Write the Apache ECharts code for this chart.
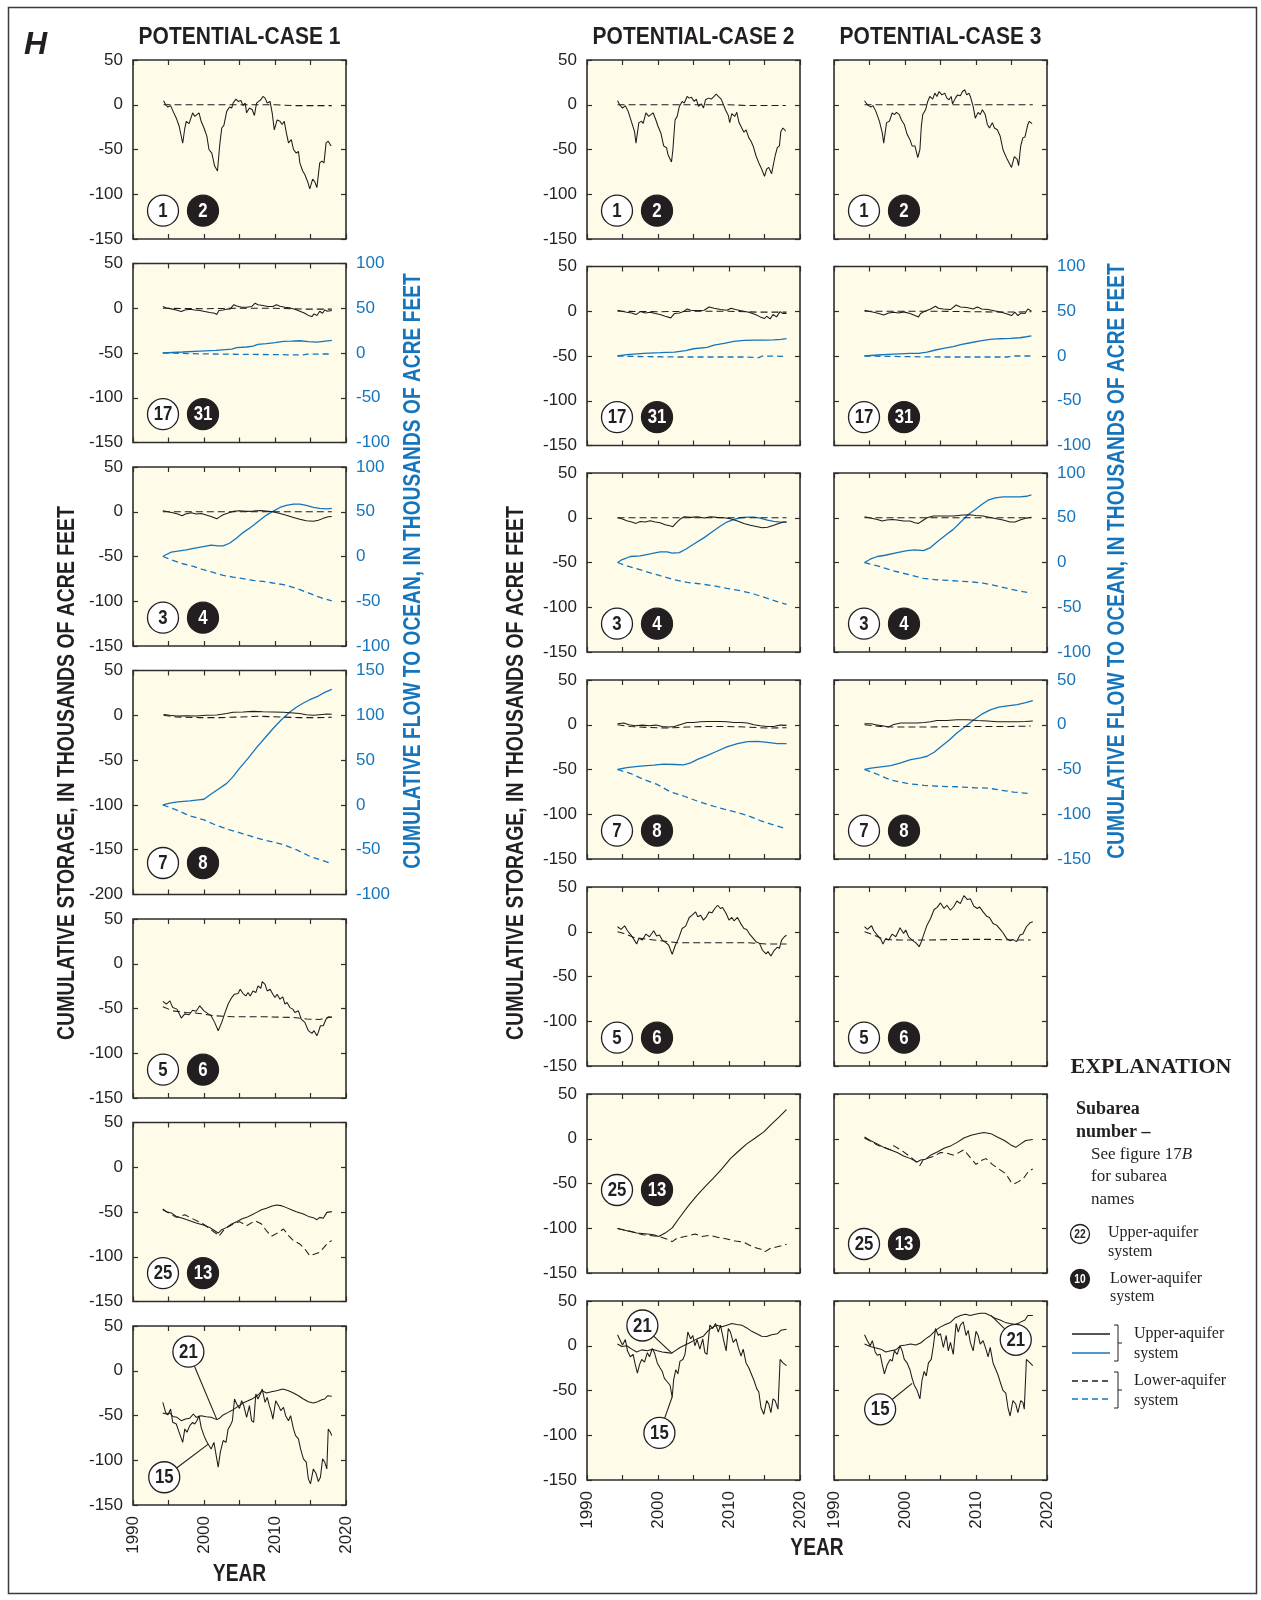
<!DOCTYPE html>
<html><head><meta charset="utf-8">
<script src="https://cdn.jsdelivr.net/npm/echarts@6/dist/echarts.min.js"></script>
<style>html,body{margin:0;padding:0;background:#fff}#c{width:1261px;height:1600px}</style>
</head><body><div id="c"></div>
<script>
// ---------------- DATA ----------------
const CASE_TITLES = ['POTENTIAL-CASE 1', 'POTENTIAL-CASE 2', 'POTENTIAL-CASE 3'];
const YEAR_TICK_LABELS = [1990, 2000, 2010, 2020];
const STORAGE_TITLE = 'CUMULATIVE STORAGE, IN THOUSANDS OF ACRE FEET';
const FLOW_TITLE = 'CUMULATIVE FLOW TO OCEAN, IN THOUSANDS OF ACRE FEET';

// Case 1
const c1_1 = [[1994.3,4.4],[1994.6,0],[1994.9,-2.6],[1995.3,-1],[1995.65,-7.4],[1996.1,-15],[1996.5,-24],[1997.0,-43],[1997.3,-26],[1997.5,-18.5],[1997.9,-21],[1998.4,-9],[1998.7,-13],[1999.0,-11],[1999.3,-9],[1999.6,-18.5],[2000.0,-26],[2000.4,-35],[2000.7,-50],[2001.1,-54],[2001.5,-68.5],[2001.9,-74],[2002.2,-46],[2002.5,-26],[2002.8,-23],[2003.2,-7.4],[2003.6,-2.6],[2003.9,-3.7],[2004.1,1.9],[2004.5,6.3],[2004.8,3.7],[2005.2,4.8],[2005.5,-1],[2005.8,1.9],[2006.0,-9],[2006.4,-3.7],[2006.8,-5.6],[2007.1,-12],[2007.4,1.9],[2007.7,3.7],[2008.0,5.6],[2008.3,9.3],[2008.6,7.4],[2008.9,1.9],[2009.3,3.7],[2009.6,-9],[2009.9,-28],[2010.3,-17],[2010.7,-18.5],[2011.0,-22],[2011.3,-18.5],[2011.6,-31.5],[2011.9,-42.6],[2012.3,-39],[2012.6,-50],[2013.0,-54],[2013.3,-52],[2013.5,-65],[2013.9,-74],[2014.2,-78],[2014.6,-86],[2014.9,-94],[2015.3,-83],[2015.6,-86],[2015.9,-92.6],[2016.3,-65],[2016.6,-63],[2016.9,-65],[2017.2,-42.6],[2017.5,-40.7],[2017.9,-46]];
const c1_2 = [[1994.3,0],[2000,0],[2005,0],[2010,0],[2012.5,-1],[2018,-1]];
const c1_17 = [[1994.2,1.9],[1994.7,0.4],[1995.4,-0.7],[1996.1,-1.9],[1996.8,-3.7],[1997.3,-1.9],[1998.0,-1],[1998.7,-1.9],[1999.4,-2.6],[2000.1,-3.7],[2000.8,-4.8],[2001.5,-5.6],[2001.8,-7],[2002.1,-2.6],[2002.7,-1.9],[2003.2,-1],[2003.7,-0.7],[2004.2,4],[2004.6,2.6],[2005.3,1.1],[2006.0,1.1],[2006.7,1.9],[2007.2,5.6],[2007.6,4],[2008.3,3],[2009.0,1.9],[2009.7,1.9],[2010.2,4],[2010.7,2.2],[2011.4,1.1],[2012.1,0.4],[2012.8,-1],[2013.5,-3.3],[2014.2,-5.6],[2014.8,-8.5],[2015.2,-9.3],[2015.5,-6.3],[2015.9,-8.1],[2016.3,-3.3],[2016.7,-5.6],[2017.0,-1.9],[2017.4,-3.3],[2018.0,-2.6]];
const c1_31 = [[1994.2,0],[2000,-0.5],[2005,0],[2010,0],[2014,-1],[2018,-1]];
const c1_17f = [[1994.2,0],[1997.0,1.1],[1999.4,2.2],[2001.7,3],[2003.9,4.4],[2004.6,5.9],[2006.0,6.7],[2006.9,7.8],[2007.6,9.6],[2008.8,10.4],[2010.0,11.5],[2011.2,13],[2012.3,13.3],[2013.5,13.7],[2014.7,12.6],[2015.9,12.2],[2016.8,13],[2018.0,14]];
const c1_31f = [[1994.2,0],[2000,-1],[2005,-1.5],[2010,-1.8],[2014,-2.2],[2014.5,-1.2],[2018,-1.1]];
const c1_3 = [[1994.2,1],[1994.9,0],[1995.6,-1],[1996.3,-2.6],[1996.9,-4.4],[1997.4,-2.6],[1998.2,-1],[1998.9,-2.6],[1999.6,-1.9],[2000.3,-3.7],[2001.0,-5.2],[2001.8,-7.8],[2002.1,-6.3],[2002.7,-3.3],[2003.4,-1.5],[2004.1,0.4],[2005.0,1.1],[2006.0,0.4],[2006.9,0.7],[2007.9,1.5],[2008.8,0.7],[2009.7,0],[2010.7,-1.9],[2011.6,-4],[2012.6,-6.3],[2013.5,-8.5],[2014.4,-10],[2015.4,-10.7],[2016.1,-9.6],[2016.8,-7.4],[2017.5,-5.6],[2018.0,-5.2]];
const c1_4 = [[1994.2,0],[2005,0],[2018,0]];
const c1_3f = [[1994.2,0],[1994.7,2.2],[1995.4,4.8],[1996.3,5.9],[1997.5,7.4],[1998.7,9.3],[1999.9,11],[2001.0,12.6],[2002.0,11.9],[2002.7,11.9],[2003.6,14.8],[2004.6,20.7],[2005.5,26.7],[2006.7,33.3],[2007.9,40.7],[2008.8,46.3],[2009.7,50.4],[2010.7,54.8],[2011.6,57],[2012.6,58.5],[2013.5,58.5],[2014.4,57],[2015.4,54.8],[2016.3,53.7],[2017.3,53.3],[2018.0,53.7]];
const c1_4f = [[1994.2,0],[1995.4,-3.7],[1997.0,-8.1],[1998.5,-11],[1999.9,-14.8],[2001.3,-17.8],[2002.7,-21],[2004.1,-23],[2005.5,-24.8],[2006.9,-26.7],[2008.3,-27.8],[2009.7,-29.6],[2011.2,-31.5],[2012.3,-34],[2013.5,-37],[2014.7,-40.7],[2015.9,-44.4],[2017.0,-47.4],[2018.0,-49.6]];
const c1_7 = [[1994.3,1],[1995.2,0],[1996.1,-0.7],[1997.5,-0.4],[1998.9,-0.7],[2000.3,0],[2001.8,0.4],[2003.2,1.9],[2004.1,3.3],[2005.5,3.7],[2006.9,4.4],[2008.3,4],[2009.7,3.7],[2011.2,3.3],[2012.6,2.6],[2013.5,1.9],[2014.4,0.7],[2015.4,0],[2016.3,0.7],[2017.3,1.5],[2018.0,1.1]];
const c1_8 = [[1994.3,0],[1996.1,-1.9],[1999.4,-2.6],[2002.2,-2.6],[2005.1,-1.9],[2007.9,-1.1],[2010.7,-1.9],[2013.5,-2.6],[2015.9,-2.6],[2018.0,-2.2]];
const c1_7f = [[1994.2,0],[1995.2,1.9],[1996.3,3.3],[1998.0,4.4],[1999.2,5.6],[2000.0,6.3],[2000.8,11],[2002.0,17.4],[2003.2,24],[2004.1,31.5],[2005.0,40.7],[2006.2,51.9],[2007.4,64],[2008.6,75],[2009.7,85],[2010.9,95],[2012.1,103.7],[2013.0,109],[2014.0,113.7],[2014.9,117.4],[2016.1,121.5],[2017.0,125.6],[2018.0,129]];
const c1_8f = [[1994.2,0],[1996.1,-5.6],[1998.0,-12.2],[2000.0,-16.7],[2001.8,-23],[2003.6,-27.8],[2005.5,-32.2],[2007.4,-37],[2009.3,-40.7],[2011.2,-44.4],[2013.0,-50],[2014.9,-57.4],[2016.3,-61],[2018.0,-65.6]];
const c1_5 = [[1994.2,-42],[1994.7,-45],[1995.2,-41.5],[1995.6,-49],[1996.2,-50.7],[1996.8,-60.7],[1997.3,-56],[1997.9,-57],[1998.4,-52],[1998.9,-53],[1999.4,-47],[2000.0,-52.6],[2000.2,-50.7],[2000.6,-56],[2001.0,-58],[2001.5,-65.5],[2002.0,-74.8],[2002.5,-65.5],[2002.9,-56],[2003.4,-45],[2003.9,-37.8],[2004.3,-34],[2004.8,-33.3],[2005.1,-28.5],[2005.5,-33.3],[2005.9,-36],[2006.2,-32.2],[2006.5,-36],[2006.9,-30.4],[2007.3,-32.2],[2007.6,-24.8],[2008.0,-27.4],[2008.2,-20],[2008.6,-23],[2008.9,-30.4],[2009.3,-28.5],[2009.7,-34],[2010.0,-37.8],[2010.3,-34],[2010.7,-39.6],[2011.1,-37],[2011.4,-45],[2011.7,-43.3],[2012.1,-49],[2012.5,-50.7],[2012.8,-54.4],[2013.3,-52.6],[2013.7,-61.8],[2014.2,-65.5],[2014.7,-74.8],[2015.2,-77.8],[2015.5,-74.8],[2015.9,-80.4],[2016.1,-76.7],[2016.4,-69.3],[2016.8,-69.3],[2017.2,-61.8],[2017.5,-59.3],[2018.0,-60]];
const c1_6 = [[1994.2,-48],[1995.6,-52.6],[1997.5,-54.4],[1999.4,-55.5],[2001.3,-58],[2004.1,-59.3],[2008.8,-59.3],[2012.6,-60],[2014.5,-61.8],[2016.3,-62.2],[2018.0,-59.3]];
const c1_25 = [[1994.2,-46.6],[1994.7,-49.6],[1995.4,-51],[1996.1,-55],[1997.0,-57],[1998.0,-59.7],[1998.9,-62.3],[1999.9,-64.6],[2000.8,-67.2],[2001.5,-70.9],[2002.0,-73.5],[2002.5,-69.8],[2003.2,-67.2],[2003.9,-63.4],[2004.6,-60.8],[2005.3,-57.8],[2006.0,-56],[2006.7,-53.4],[2007.4,-50.4],[2008.1,-47.4],[2008.8,-45.9],[2009.5,-43.7],[2010.2,-42.2],[2010.9,-42.9],[2011.6,-45.1],[2012.3,-47.4],[2013.0,-49.6],[2014.0,-52.2],[2014.7,-54.9],[2015.4,-56.3],[2015.9,-58.6],[2016.3,-56],[2016.8,-57],[2017.3,-50.4],[2018.0,-49.6]];
const c1_13 = [[1994.2,-47.4],[1996.1,-56],[1997.3,-53],[1998.0,-56],[1999.9,-63.4],[2001.8,-74.6],[2002.1,-77],[2002.9,-69],[2004.1,-63.4],[2005.0,-60.8],[2006.0,-65.3],[2007.2,-59.7],[2008.1,-63.4],[2008.8,-71],[2009.5,-77.2],[2010.5,-72.8],[2011.2,-69],[2011.9,-76.5],[2012.6,-82],[2013.5,-85.8],[2014.2,-91.4],[2014.9,-98.9],[2015.6,-97],[2016.3,-95],[2016.9,-89.6],[2017.5,-84],[2018.0,-82]];
const c1_21 = [[1994.2,-47.2],[1994.7,-48.3],[1995.2,-47.2],[1995.6,-51],[1996.2,-52],[1996.8,-55.8],[1997.4,-54],[1998.0,-53],[1998.5,-48.3],[1998.9,-52],[1999.6,-50.2],[2000.3,-51.3],[2001.0,-52],[2001.8,-54.6],[2002.2,-53],[2002.7,-49.4],[2003.4,-46.5],[2004.1,-43.5],[2004.8,-39.8],[2005.5,-36],[2006.2,-33.5],[2006.9,-30.9],[2007.6,-27.1],[2008.2,-22.3],[2008.8,-24.9],[2009.5,-23.4],[2010.2,-22.3],[2011.1,-20.4],[2011.9,-22.3],[2012.6,-24.9],[2013.3,-27.9],[2014.0,-31.6],[2014.7,-34.6],[2015.4,-36],[2016.0,-34.6],[2016.6,-32.3],[2017.0,-31.6],[2017.4,-27.9],[2018.0,-28.6]];
const c1_15 = [[1994.2,-35.3],[1994.6,-46.5],[1994.9,-49.4],[1995.3,-42.8],[1995.6,-57.6],[1996.1,-59.5],[1996.5,-68.8],[1997.0,-80],[1997.3,-65],[1997.6,-68.8],[1998.0,-61.3],[1998.4,-57.6],[1998.7,-59.5],[1999.0,-55.8],[1999.3,-50.2],[1999.6,-63.2],[2000.0,-72.5],[2000.3,-78],[2000.7,-83.6],[2001.0,-87.4],[2001.4,-80],[2001.8,-98.5],[2002.0,-107.8],[2002.3,-91],[2002.7,-78],[2003.1,-80],[2003.4,-65],[2003.7,-61.3],[2004.0,-55.8],[2004.3,-31.6],[2004.6,-37.2],[2005.0,-42],[2005.3,-33.5],[2005.6,-39],[2006.0,-52],[2006.4,-39],[2006.7,-55.8],[2007.0,-57.6],[2007.3,-26],[2007.6,-31.6],[2008.0,-24.9],[2008.2,-20.4],[2008.6,-35.3],[2008.9,-29.7],[2009.2,-39],[2009.5,-46.5],[2009.7,-54],[2010.1,-33.5],[2010.5,-39],[2010.8,-44.6],[2011.2,-40.9],[2011.5,-50.2],[2011.9,-55.8],[2012.2,-50.2],[2012.6,-65],[2012.9,-72.5],[2013.3,-76.2],[2013.6,-87.4],[2014.0,-98.5],[2014.4,-102],[2014.7,-120.8],[2015.0,-126.4],[2015.4,-109.7],[2015.8,-115.2],[2016.1,-123.8],[2016.4,-119],[2016.7,-98.5],[2017.0,-102],[2017.3,-109.7],[2017.5,-65],[2017.8,-68.8],[2018.0,-72.5]];

// Case 2
const c2_1 = [[1994.3,4.4],[1994.6,0],[1995.0,-3.7],[1995.4,-1],[1995.8,-7.4],[1996.3,-20],[1996.7,-30],[1996.9,-43],[1997.3,-20],[1997.7,-18.5],[1997.9,-21],[1998.3,-9],[1998.7,-13],[1999.0,-11],[1999.3,-9],[1999.7,-17],[2000.0,-24],[2000.4,-31.5],[2000.8,-46],[2001.2,-48],[2001.4,-55.5],[2001.9,-64],[2002.1,-50],[2002.4,-17],[2002.7,-13],[2003.0,-2],[2003.4,3.7],[2003.7,1.9],[2004.1,9.3],[2004.4,7.4],[2004.7,8.5],[2005.1,3.7],[2005.4,6.3],[2005.7,-1.9],[2006.1,1],[2006.4,-3.7],[2006.7,5.6],[2007.1,7.4],[2007.5,6.3],[2007.9,9.3],[2008.2,12],[2008.5,9.3],[2008.9,6.3],[2009.1,4.8],[2009.5,-5.6],[2009.9,-12],[2010.1,-20],[2010.4,-10],[2010.8,-13],[2011.1,-8.5],[2011.4,-19.6],[2011.8,-26],[2012.1,-30.7],[2012.4,-28],[2012.8,-37],[2013.1,-40.7],[2013.4,-46],[2013.8,-57],[2014.2,-65],[2014.5,-70],[2014.8,-76],[2015.0,-80],[2015.3,-72],[2015.6,-70],[2016.0,-77],[2016.2,-76],[2016.5,-57],[2016.8,-48],[2017.1,-46],[2017.3,-30],[2017.6,-26],[2018.0,-29.6]];
const c2_2 = [[1994.3,0],[2000,0],[2005,0],[2010,0],[2012.5,-0.8],[2018,-0.8]];
const c2_17 = [[1994.3,1.1],[1994.9,0],[1995.6,-1.1],[1996.3,-1.9],[1996.9,-3.7],[1997.5,-0.4],[1998.2,-1.9],[1998.9,-1.1],[1999.6,-2.6],[2000.3,-3.7],[2001.0,-5.6],[2001.8,-7.4],[2002.0,-8.5],[2002.3,-2.6],[2003.0,-1.9],[2003.6,-0.4],[2004.1,2.6],[2004.6,1.1],[2005.5,0.7],[2006.5,1.1],[2007.2,4.8],[2007.9,3.3],[2008.8,1.9],[2009.7,1.1],[2010.3,3.3],[2010.9,1.9],[2011.9,0.4],[2012.8,-1.1],[2013.7,-3.7],[2014.4,-6.3],[2015.0,-8.1],[2015.3,-5.6],[2015.8,-8.5],[2016.2,-3.7],[2016.7,-6.3],[2017.2,-0.4],[2017.6,-2.6],[2018.1,-2.6]];
const c2_31 = [[1994.3,0],[2000,-0.5],[2005,0],[2010,0],[2014,-1],[2018.1,-1]];
const c2_17f = [[1994.3,0],[1995.6,1.5],[1998.0,3],[2000.3,3.7],[2002.3,4.4],[2003.9,5.9],[2005.0,8.1],[2006.9,9.6],[2007.9,12.2],[2009.3,14],[2010.7,16.3],[2012.1,17.4],[2013.5,17.8],[2014.9,17.8],[2016.3,18.1],[2017.3,18.5],[2018.1,19.3]];
const c2_31f = [[1994.3,0],[1998.0,-0.7],[2002.7,-1.1],[2007.4,-1.1],[2012.1,-1.1],[2014.2,-1.9],[2014.7,0],[2018.1,-0.4]];
const c2_3 = [[1994.3,0],[1994.9,-1.1],[1995.6,-3.3],[1996.3,-4.8],[1996.9,-6.3],[1997.5,-4.1],[1998.2,-4.8],[1998.9,-3.3],[1999.6,-4.8],[2000.3,-5.6],[2001.0,-7.8],[2001.8,-9.3],[2002.1,-10],[2002.5,-6.3],[2003.2,-1.1],[2003.7,1.1],[2004.6,0.4],[2005.6,1.1],[2006.5,-0.4],[2007.4,1.1],[2008.3,0.4],[2009.3,0],[2010.2,-1.1],[2011.2,-3.7],[2012.1,-6.3],[2013.0,-8.5],[2014.0,-10],[2014.7,-11.1],[2015.4,-10.7],[2016.3,-8.5],[2017.0,-6.3],[2017.7,-4.8],[2018.1,-4.8]];
const c2_4 = [[1994.3,0],[2005,0],[2018.1,0]];
const c2_3f = [[1994.3,0],[1994.9,3],[1996.1,6.7],[1997.5,7.4],[1998.9,9.6],[2000.3,11.9],[2001.3,11.9],[2002.0,10.4],[2003.0,11.1],[2003.9,14.8],[2005.0,20.4],[2006.5,27.8],[2007.6,34],[2008.8,40.7],[2009.7,45.2],[2010.7,48.1],[2011.6,50],[2012.6,50.7],[2013.5,50.7],[2014.4,49.6],[2015.4,47.4],[2016.3,45.9],[2017.3,45.2],[2018.1,45.2]];
const c2_4f = [[1994.3,0],[1995.6,-3.7],[1998.0,-9.3],[2000.3,-14.8],[2002.3,-19.3],[2004.1,-22.2],[2006.0,-24],[2007.9,-26],[2009.7,-28.9],[2011.6,-31.5],[2013.5,-35.2],[2015.4,-40],[2016.8,-43.7],[2018.1,-46.7]];
const c2_7 = [[1994.3,1.1],[1995.2,1.9],[1995.9,0],[1996.8,-1.1],[1997.8,-0.4],[1998.8,-1.1],[1999.7,-0.4],[2000.6,-1.9],[2001.5,-2.6],[2002.3,-1.9],[2003.2,0.4],[2004.1,2.6],[2005.0,2.6],[2006.0,3.3],[2006.9,3.7],[2007.9,3.7],[2008.8,3.7],[2009.7,3.3],[2010.7,2.6],[2011.6,2.6],[2012.6,1.9],[2013.5,0],[2014.4,-1.1],[2015.4,-1.9],[2016.3,-1.9],[2017.2,-0.4],[2018.1,-0.7]];
const c2_8 = [[1994.3,0],[1996.1,-1.9],[1998.5,-3],[2001.3,-3.7],[2004.1,-2.6],[2006.9,-1.9],[2009.7,-1.9],[2012.6,-2.6],[2015.4,-3.7],[2018.1,-3.3]];
const c2_7f = [[1994.3,-50],[1995.6,-47.8],[1997.5,-46.3],[1999.4,-45.2],[2000.8,-44],[2002.3,-44.4],[2003.6,-44.8],[2004.6,-42.6],[2005.5,-38.9],[2006.9,-34.4],[2008.3,-29.6],[2009.7,-24.8],[2011.2,-21.1],[2012.6,-18.9],[2014.0,-18.5],[2015.4,-19.6],[2016.8,-21.1],[2018.1,-21.1]];
const c2_8f = [[1994.3,-50],[1996.1,-54.4],[1998.0,-61.1],[1999.9,-66.7],[2001.8,-75.2],[2003.6,-79.6],[2005.5,-85.2],[2007.4,-90],[2009.3,-94.4],[2011.2,-98.1],[2013.0,-102.6],[2014.4,-107],[2015.9,-111.1],[2017.2,-114],[2018.1,-116.7]];
const c2_5 = [[1994.3,5.6],[1994.8,2.6],[1995.3,6.7],[1995.7,1.1],[1996.2,-3.7],[1996.6,-8.5],[1997.0,-13.7],[1997.3,-7.4],[1997.8,-9.3],[1998.3,-2.6],[1998.8,-5.6],[1999.4,1.1],[1999.8,-4.8],[2000.2,-3.7],[2000.6,-9.3],[2001.1,-12.2],[2001.5,-14.8],[2002.0,-25.2],[2002.4,-15.9],[2002.9,-7.4],[2003.4,3.7],[2003.9,6.3],[2004.4,15.9],[2004.8,18.5],[2005.3,22.2],[2005.6,16.7],[2006.0,18.5],[2006.4,13],[2006.8,16.7],[2007.2,22.2],[2007.6,21.1],[2008.0,26],[2008.4,29.6],[2008.8,26],[2009.1,27],[2009.6,20.4],[2010.0,13],[2010.4,16],[2010.7,12.2],[2011.2,16],[2011.7,8.5],[2012.1,3.7],[2012.5,2.6],[2012.9,-2.6],[2013.3,-6.3],[2013.8,-11.1],[2014.3,-13],[2014.7,-20.4],[2015.2,-24.8],[2015.5,-22.2],[2015.9,-27],[2016.4,-20.4],[2016.8,-17.4],[2017.1,-18.5],[2017.4,-9.3],[2017.8,-5.6],[2018.1,-3.7]];
const c2_6 = [[1994.3,0],[1995.2,-1.9],[1996.6,-6.3],[1998.5,-8.5],[2000.4,-10],[2002.8,-12.2],[2005.1,-12.2],[2009.8,-12.2],[2012.6,-12.2],[2015.4,-13.7],[2018.1,-13.7]];
const c2_25 = [[1994.3,-100.4],[1995.6,-102.7],[1997.0,-105.4],[1998.5,-106.5],[1999.4,-107.3],[2000.1,-109.2],[2001.0,-105.4],[2002.0,-99.6],[2003.1,-87.4],[2004.3,-74.7],[2005.5,-63.2],[2006.7,-52.9],[2007.8,-44.1],[2009.0,-33.7],[2010.2,-22.2],[2011.4,-13.4],[2012.5,-5.7],[2013.7,0.8],[2014.9,7.7],[2016.1,17.2],[2017.0,23.8],[2018.1,32.6]];
const c2_13 = [[1994.3,-100.4],[1996.1,-103.4],[1997.9,-107.3],[2000.1,-109.2],[2001.2,-111.9],[2002.0,-115],[2002.7,-111.1],[2003.8,-109.2],[2005.2,-106.5],[2006.2,-109.2],[2007.3,-108],[2008.5,-110.3],[2009.7,-111.9],[2010.9,-114.2],[2012.1,-115.7],[2013.3,-120.7],[2014.5,-123.4],[2015.0,-126.4],[2015.8,-122.6],[2016.8,-120.7],[2018.1,-118]];
const c2_21 = [[1994.3,1.9],[1994.9,-0.8],[1995.6,0],[1996.3,-3.8],[1997.0,-6.9],[1997.7,-4.6],[1998.5,-5.7],[1999.2,-3.8],[1999.9,-5.7],[2000.6,-6.9],[2001.3,-7.7],[2001.9,-8.4],[2002.4,-5.7],[2003.1,-1.9],[2003.8,0.8],[2004.4,3.1],[2005.0,5.7],[2005.7,8.4],[2006.4,10.7],[2007.1,17.2],[2007.8,21.1],[2008.3,23],[2009.0,21.1],[2009.7,23],[2010.4,24.9],[2011.1,23.8],[2011.8,23],[2012.5,19.9],[2013.2,16.1],[2013.9,13.4],[2014.6,10.7],[2015.3,10.3],[2016.0,12.3],[2016.8,13.4],[2017.3,17.2],[2018.1,18.4]];
const c2_15 = [[1994.3,12.3],[1994.7,5.7],[1995.0,0.8],[1995.4,6.9],[1995.7,-5.7],[1996.1,-12.3],[1996.5,-9.6],[1996.8,-21.1],[1997.1,-30.7],[1997.4,-21.1],[1997.7,-15.3],[1998.1,-18.4],[1998.5,-7.7],[1998.8,-12.3],[1999.2,-3.1],[1999.5,-7.7],[1999.9,-19.2],[2000.3,-24.9],[2000.6,-28.7],[2000.9,-36.4],[2001.3,-40.2],[2001.7,-44.1],[2002.0,-57.5],[2002.2,-38.3],[2002.5,-26.8],[2002.8,-31.4],[2003.1,-17.2],[2003.5,-15.3],[2003.8,-9.6],[2004.2,15.3],[2004.6,7.7],[2004.9,11.5],[2005.2,0],[2005.5,6.9],[2005.9,-3.8],[2006.3,7.7],[2006.6,-7.7],[2006.9,-9.6],[2007.3,23],[2007.7,19.2],[2008.1,24.9],[2008.5,15.3],[2008.8,23],[2009.2,7.7],[2009.6,-5.7],[2009.9,19.2],[2010.2,15.3],[2010.6,3.8],[2011.0,7.7],[2011.3,-1.9],[2011.7,-11.5],[2012.0,-3.8],[2012.4,-19.2],[2012.8,-24.9],[2013.1,-30.7],[2013.5,-38.3],[2013.9,-47.9],[2014.2,-51.7],[2014.5,-69],[2014.9,-76.6],[2015.3,-61.3],[2015.6,-65.1],[2015.9,-74.7],[2016.2,-59.4],[2016.5,-61.3],[2016.9,-70.9],[2017.2,-15.3],[2017.6,-19.2],[2018.1,-22.2]];

// Case 3
const c3_1 = [[1994.3,4.4],[1994.7,0],[1995.2,-2.6],[1995.5,-1],[1995.9,-7.4],[1996.4,-18.5],[1996.8,-31.5],[1997.0,-43],[1997.4,-20],[1997.8,-18.5],[1998.2,-9],[1998.5,-11],[1998.8,-8.5],[1999.2,-11],[1999.5,-17],[1999.9,-22],[2000.3,-33],[2000.7,-39],[2001.0,-46],[2001.4,-46],[2001.8,-59],[2002.1,-50],[2002.3,-24],[2002.5,-11],[2002.9,-5.6],[2003.2,3.7],[2003.5,9.3],[2003.9,6.3],[2004.2,13],[2004.5,9.3],[2004.8,14.8],[2005.2,11],[2005.6,13],[2005.9,7.4],[2006.2,5.6],[2006.5,9.3],[2006.7,1],[2007.1,7.4],[2007.4,11],[2007.8,10],[2008.1,14.8],[2008.4,16.7],[2008.7,11],[2009.0,13],[2009.2,9.3],[2009.6,-1.9],[2009.9,-15],[2010.3,-8.5],[2010.6,-11],[2010.9,-5.6],[2011.3,-11],[2011.6,-22],[2011.9,-26],[2012.3,-20],[2012.6,-26],[2013.0,-28],[2013.4,-35],[2013.8,-50],[2014.0,-54],[2014.4,-61],[2014.8,-67],[2015.0,-70],[2015.4,-58],[2015.8,-61],[2016.0,-68],[2016.3,-46],[2016.6,-37],[2016.9,-36],[2017.3,-22],[2017.5,-18.5],[2017.9,-21]];
const c3_2 = [[1994.3,0],[2000,0],[2005,0],[2010,0],[2018,0]];
const c3_17 = [[1994.3,1.1],[1994.9,0],[1995.6,-1.1],[1996.3,-2.6],[1997.0,-4.1],[1997.7,-1.9],[1998.4,-1.1],[1999.1,-1.9],[1999.8,-0.7],[2000.7,-2.6],[2001.4,-4.8],[2001.9,-6.3],[2002.2,-2.6],[2002.9,0.4],[2003.6,2.6],[2004.3,5.6],[2004.7,3.3],[2005.4,2.6],[2006.4,1.9],[2007.2,7],[2007.8,4.8],[2008.7,4.1],[2009.6,2.6],[2010.2,4.8],[2010.8,2.6],[2011.7,1.9],[2012.7,0.4],[2013.6,-1.1],[2014.5,-3.3],[2015.0,-4.8],[2015.5,-1.1],[2015.9,-4.8],[2016.4,-1.9],[2016.9,-2.6],[2017.3,2.6],[2017.8,0]];
const c3_31 = [[1994.3,0],[2005,0],[2014,-1],[2017.8,-0.5]];
const c3_17f = [[1994.3,0],[1996.1,1.1],[1998.4,2.2],[2000.7,3],[2001.9,3],[2003.1,4.4],[2004.3,6.7],[2005.4,8.5],[2006.8,10.4],[2008.0,13],[2009.2,14.8],[2010.6,17],[2012.0,18.5],[2013.4,19.3],[2014.8,19.6],[2016.2,20.4],[2017.1,21.5],[2017.8,22.6]];
const c3_31f = [[1994.3,0],[2000,-0.7],[2005,-1.1],[2010,-1.1],[2014.5,-1.1],[2015,0],[2017.8,0]];
const c3_3 = [[1994.3,1.1],[1995.1,-0.4],[1996.1,-1.9],[1996.8,-3.7],[1997.4,-2.6],[1998.2,-1.9],[1998.9,-2.6],[1999.8,-3.7],[2000.7,-3.7],[2001.4,-5.6],[2001.9,-6.3],[2002.4,-3.7],[2003.1,0],[2004.0,1.9],[2005.4,1.9],[2006.8,1.9],[2008.2,3],[2009.1,3.3],[2010.0,2.6],[2011.0,1.9],[2012.0,0.4],[2012.9,-1.1],[2013.8,-2.6],[2014.8,-4.8],[2015.5,-4.8],[2016.2,-2.6],[2017.1,-0.4],[2017.8,0.4]];
const c3_4 = [[1994.3,0],[2005,0],[2017.8,0]];
const c3_3f = [[1994.3,0],[1995.1,3.7],[1996.1,6.7],[1997.2,8.1],[1998.9,11.1],[2000.3,13.3],[2001.4,14.1],[2002.6,13.3],[2003.6,16.7],[2004.5,23],[2005.7,30.4],[2006.8,37],[2008.0,46.3],[2008.9,53.7],[2009.9,59.3],[2010.8,64.8],[2011.7,69.6],[2012.7,72.2],[2013.8,73.3],[2015.2,73.3],[2016.2,73.3],[2017.1,74],[2017.8,75.6]];
const c3_4f = [[1994.3,0],[1996.1,-3.7],[1998.4,-9.3],[2000.7,-14],[2002.6,-17.8],[2004.5,-19.3],[2006.8,-20.4],[2009.1,-21.5],[2011.0,-23],[2012.9,-26],[2014.8,-29.6],[2016.6,-32.6],[2017.8,-34]];
const c3_7 = [[1994.3,1.1],[1995.2,1.1],[1995.9,0],[1996.8,-1.1],[1997.7,-2.6],[1998.4,0.4],[1999.4,1.9],[2000.5,1.9],[2001.7,1.9],[2002.7,2.6],[2003.6,3.3],[2004.5,4.8],[2005.9,4.8],[2007.3,5.6],[2008.8,5.6],[2010.2,4.8],[2011.6,4.1],[2013.0,3.3],[2014.4,3.3],[2015.8,3.3],[2017.0,3.7],[2018.0,4.1]];
const c3_8 = [[1994.3,0],[1996.6,-1.9],[1998.4,-2.6],[2003.1,-2.6],[2007.8,-1.9],[2012.5,-1.9],[2014.8,-1.9],[2017.7,-1.5]];
const c3_7f = [[1994.3,-50],[1995.2,-48.5],[1996.6,-47],[1998.0,-45.6],[1999.4,-42.6],[2000.8,-38.9],[2002.2,-37],[2003.1,-35.2],[2004.1,-30.7],[2005.0,-24.8],[2006.2,-17.4],[2007.3,-9.3],[2008.5,-1.9],[2009.7,5.6],[2010.9,12.2],[2012.0,16.7],[2013.2,19.6],[2014.4,21.1],[2015.8,22.6],[2017.0,24.8],[2018.0,27]];
const c3_8f = [[1994.3,-50],[1995.6,-53.7],[1998.0,-61.8],[2000.3,-65.6],[2002.7,-67.8],[2005.0,-68.9],[2007.3,-69.3],[2009.7,-70.4],[2011.6,-70.7],[2013.4,-73],[2015.3,-75.2],[2017.7,-77]];
const c3_5 = [[1994.3,5.6],[1994.7,2.6],[1995.3,6.7],[1995.6,1.1],[1996.1,-3.7],[1996.6,-8.5],[1996.9,-13.7],[1997.3,-7.4],[1997.7,-9.3],[1998.2,-2.6],[1998.7,-5.6],[1999.3,4.4],[1999.8,-1.9],[2000.1,1.9],[2000.5,-5.6],[2001.0,-9.3],[2001.5,-12.2],[2002.0,-16.7],[2002.3,-11.1],[2002.7,-1.9],[2003.1,7.4],[2003.6,14.8],[2004.1,24.8],[2004.5,27],[2005.0,32.2],[2005.5,26],[2005.9,29.6],[2006.4,24],[2006.9,28.5],[2007.3,34.4],[2007.8,31.5],[2008.3,40.4],[2008.8,36],[2009.2,37],[2009.7,28.5],[2010.2,26],[2010.5,27.8],[2011.0,22.2],[2011.5,17.4],[2011.9,15.9],[2012.4,9.3],[2012.9,7.4],[2013.3,3.7],[2013.8,-1.1],[2014.3,-7.4],[2014.8,-10],[2015.2,-8.5],[2015.7,-11.1],[2016.2,-3.7],[2016.6,-2.6],[2017.1,5.6],[2017.6,10],[2018.0,11.1]];
const c3_6 = [[1994.3,0],[1995.6,-3.7],[1997.0,-8.5],[1999.4,-9.3],[2003.1,-9.3],[2007.8,-8.5],[2012.5,-8.5],[2015.3,-9.3],[2017.7,-9.3]];
const c3_25 = [[1994.3,1.9],[1995.1,-1.9],[1996.1,-5.7],[1997.0,-9.6],[1997.9,-12.3],[1998.9,-15.3],[1999.8,-19.2],[2000.8,-22.2],[2001.7,-26],[2002.2,-23.8],[2002.9,-23],[2003.6,-18.4],[2004.6,-14.6],[2005.5,-10.7],[2006.5,-7.7],[2007.4,-3.8],[2008.3,0.8],[2009.3,3.8],[2010.2,5.7],[2011.1,6.9],[2012.1,5.7],[2013.0,1.9],[2014.0,-1.9],[2014.9,-6.9],[2015.6,-9.6],[2016.3,-5.7],[2017.0,-1.9],[2018.0,-0.8]];
const c3_13 = [[1994.3,0.8],[1996.1,-6.9],[1997.9,-12.3],[1998.4,-7.7],[1999.8,-14.6],[2001.2,-23],[2002.1,-29.9],[2002.6,-23],[2004.0,-19.9],[2005.0,-15.3],[2005.9,-16.1],[2006.9,-18.4],[2008.3,-12.3],[2009.0,-19.2],[2010.0,-28.7],[2010.9,-23.8],[2011.4,-22.2],[2012.3,-28.7],[2013.2,-33.7],[2014.2,-39.1],[2014.9,-47.9],[2015.3,-50.6],[2016.0,-47.9],[2016.7,-44.1],[2017.4,-36.4],[2018.0,-33.7]];
const c3_21 = [[1994.3,1.9],[1995.1,-0.8],[1995.8,-2.3],[1996.6,-3.8],[1997.3,-6.9],[1998.0,-5.7],[1998.7,-4.6],[1999.4,0],[2000.1,0.8],[2000.8,1.9],[2001.5,0.8],[2002.2,3.1],[2002.9,7.7],[2003.6,11.5],[2004.3,17.2],[2005.0,21.1],[2005.7,23.8],[2006.4,26.1],[2007.1,31.4],[2007.8,33.7],[2008.5,35.2],[2009.2,33.7],[2009.9,35.2],[2010.6,36.4],[2011.3,36.4],[2012.0,33.7],[2012.7,30.7],[2013.4,28.7],[2014.1,26.1],[2014.8,24.9],[2015.5,23.8],[2016.2,26.1],[2016.9,28.7],[2017.3,33.7],[2018.0,33.7]];
const c3_15 = [[1994.3,12.3],[1994.7,5.7],[1995.1,0],[1995.4,5.7],[1995.8,-6.9],[1996.1,-10.7],[1996.5,-9.6],[1996.8,-21.1],[1997.1,-31.4],[1997.5,-21.1],[1997.9,-15.3],[1998.2,-17.2],[1998.5,-5.7],[1998.9,-9.6],[1999.3,0],[1999.6,-5.7],[1999.9,-15.3],[2000.3,-19.2],[2000.7,-26.8],[2001.0,-36.4],[2001.3,-44.1],[2001.7,-49.8],[2002.1,-59.4],[2002.4,-38.3],[2002.7,-28.7],[2003.0,-33.7],[2003.3,-19.2],[2003.7,-15.3],[2004.0,0],[2004.3,19.2],[2004.7,11.5],[2005.0,13.4],[2005.4,-1.9],[2005.8,11.5],[2006.1,-5.7],[2006.4,3.8],[2006.8,-9.6],[2007.2,24.9],[2007.5,15.3],[2007.8,23],[2008.2,26.8],[2008.6,11.5],[2008.9,17.2],[2009.2,3.8],[2009.6,-5.7],[2010.0,16.1],[2010.3,11.5],[2010.6,1.9],[2011.0,5.7],[2011.4,-3.8],[2011.7,-12.3],[2012.0,-1.9],[2012.4,-19.2],[2012.8,-26.8],[2013.1,-32.6],[2013.4,-40.2],[2013.8,-49.8],[2014.2,-52.9],[2014.5,-69],[2014.8,-78.5],[2015.2,-61.3],[2015.6,-65.1],[2015.9,-74.7],[2016.3,-61.3],[2016.6,-63.2],[2016.8,-70.9],[2017.1,-15.3],[2017.5,-18.4],[2018.0,-22.2]];

// ---------------- STYLE / LAYOUT ----------------
const SANS = "'Liberation Sans',Arial,sans-serif";
const SERIF = "'Liberation Serif','DejaVu Serif',serif";
const INK = '#231f20', FRAME = '#2e2e2e', BG = '#fffbe9', BLUE = '#1475bd';
const COL_LEFT = [133, 587, 834];
const PW = 213, PH = 179;
const COL1_TOP = [60, 263.5, 467, 670.5, 919, 1122.5, 1326];
const COL23_TOP = [60, 266.5, 473, 680, 887, 1094, 1301];

function std(col,row,badges,lines,extra){ return Object.assign({col,row,ymin:-150,ymax:50,badges,lines}, extra||{}); }
const U = d=>({d}), L = d=>({d,dash:1}), UF = d=>({d,blue:1}), LF = d=>({d,blue:1,dash:1});

const panels = [
  std(0,0,[1,2],[U(c1_1),L(c1_2)]),
  std(0,1,[17,31],[U(c1_17),L(c1_31),UF(c1_17f),LF(c1_31f)],{rmin:-100,rmax:100,rlab:1}),
  std(0,2,[3,4],[U(c1_3),L(c1_4),UF(c1_3f),LF(c1_4f)],{rmin:-100,rmax:100,rlab:1}),
  std(0,3,[7,8],[U(c1_7),L(c1_8),UF(c1_7f),LF(c1_8f)],{ymin:-200,h:224,rmin:-100,rmax:150,rlab:1,by:31.5}),
  std(0,4,[5,6],[U(c1_5),L(c1_6)]),
  std(0,5,[25,13],[U(c1_25),L(c1_13)]),
  std(0,6,null,[U(c1_21),U(c1_15)],{callout:{c21:[1997.8,21.3],t21:[2001.8,-54.3],c15:[1994.4,-119],t15:[2000.6,-82]}}),

  std(1,0,[1,2],[U(c2_1),L(c2_2)]),
  std(1,1,[17,31],[U(c2_17),L(c2_31),UF(c2_17f),LF(c2_31f)],{rmin:-100,rmax:100}),
  std(1,2,[3,4],[U(c2_3),L(c2_4),UF(c2_3f),LF(c2_4f)],{rmin:-100,rmax:100}),
  std(1,3,[7,8],[U(c2_7),L(c2_8),UF(c2_7f),LF(c2_8f)],{rmin:-150,rmax:50}),
  std(1,4,[5,6],[U(c2_5),L(c2_6)]),
  std(1,5,[25,13],[U(c2_25),L(c2_13)],{btop:96}),
  std(1,6,null,[U(c2_21),U(c2_15)],{callout:{c21:[1997.8,22.6],t21:[2001.9,-8],c15:[2000.2,-97.4],t15:[2002.0,-57]}}),

  std(2,0,[1,2],[U(c3_1),L(c3_2)]),
  std(2,1,[17,31],[U(c3_17),L(c3_31),UF(c3_17f),LF(c3_31f)],{rmin:-100,rmax:100,rlab:1}),
  std(2,2,[3,4],[U(c3_3),L(c3_4),UF(c3_3f),LF(c3_4f)],{rmin:-100,rmax:100,rlab:1}),
  std(2,3,[7,8],[U(c3_7),L(c3_8),UF(c3_7f),LF(c3_8f)],{rmin:-150,rmax:50,rlab:1}),
  std(2,4,[5,6],[U(c3_5),L(c3_6)]),
  std(2,5,[25,13],[U(c3_25),L(c3_13)],{by:29}),
  std(2,6,null,[U(c3_21),U(c3_15)],{callout:{c21:[2015.6,6.6],t21:[2012.1,34],c15:[1996.5,-71],t15:[2001.0,-42]}})
];

const grids=[], xAxes=[], yAxes=[], series=[];
const tickStyle = {inside:true, length:5, lineStyle:{color:FRAME, width:1.2}};
const labelFont = {fontSize:17, fontFamily:SANS, color:INK};
panels.forEach((p,g)=>{
  p.left = COL_LEFT[p.col];
  p.top = p.col===0 ? COL1_TOP[p.row] : COL23_TOP[p.row];
  p.h = p.h || PH;
  grids.push({left:p.left, top:p.top, width:PW, height:p.h, show:true, backgroundColor:BG, borderColor:FRAME, borderWidth:1.6, containLabel:false});
  const xb = {type:'value', gridIndex:g, min:1990, max:2020, interval:5, axisLine:{show:false,onZero:false}, axisTick:tickStyle, splitLine:{show:false}};
  xAxes.push(Object.assign({}, xb, {position:'bottom', axisLabel:Object.assign({show:p.row===6, rotate:90, margin:11, showMinLabel:true, showMaxLabel:true,
      formatter:v=>YEAR_TICK_LABELS.includes(v)?String(v):''}, labelFont)}));
  xAxes.push(Object.assign({}, xb, {position:'top', axisLabel:{show:false}}));
  yAxes.push({type:'value', gridIndex:g, position:'left', min:p.ymin, max:p.ymax, interval:50, axisLine:{show:false,onZero:false}, axisTick:tickStyle, splitLine:{show:false},
      axisLabel:Object.assign({show:p.col<2, margin:10, showMinLabel:true, showMaxLabel:true}, labelFont)});
  yAxes.push({type:'value', gridIndex:g, position:'right', min:(p.rmin!==undefined?p.rmin:p.ymin), max:(p.rmax!==undefined?p.rmax:p.ymax), interval:50,
      axisLine:{show:false,onZero:false}, axisTick:tickStyle, splitLine:{show:false},
      axisLabel:Object.assign({}, labelFont, {show:!!p.rlab, margin:10, color:BLUE, showMinLabel:true, showMaxLabel:true})});
  p.lines.forEach(s=>{
    series.push({type:'line', xAxisIndex:2*g, yAxisIndex:s.blue?2*g+1:2*g, data:s.d, showSymbol:false, symbol:'none', silent:true, animation:false,
      lineStyle:{color:s.blue?BLUE:'#1c1c1c', width:s.blue?1.3:1.05, type:s.dash?(s.blue?[6,4]:[7,4]):'solid'}, z:s.blue?3:4});
  });
});

const chart = echarts.init(document.getElementById('c'), null, {renderer:'canvas', width:1261, height:1600});
chart.setOption({animation:false, backgroundColor:'#ffffff', grid:grids, xAxis:xAxes, yAxis:yAxes, series:series});

// ---------------- ANNOTATIONS ----------------
function txt(x,y,text,st,extra){
  return Object.assign({type:'text', x, y, z:100, silent:true,
    style:Object.assign({text, fill:INK, align:'center', verticalAlign:'middle', textAlign:'center', textVerticalAlign:'middle'}, st)}, extra||{});
}
const COND = {fontWeight:'bold', fontFamily:SANS};
function badge(cx,cy,num,filled,r,fs,sx){
  return [
    {type:'circle', z:100, silent:true, shape:{cx,cy,r}, style:{fill:filled?INK:'#fff', stroke:INK, lineWidth:1.3}},
    txt(cx, cy+0.5, String(num), Object.assign({fill:filled?'#fff':INK, fontSize:fs}, COND), {z:101, scaleX:sx||0.84})
  ];
}
const els = [];
els.push({type:'rect', z:100, silent:true, shape:{x:8.5,y:7.5,width:1248,height:1586}, style:{fill:'none', stroke:'#3a3a3a', lineWidth:1.5}});
els.push(txt(35.5,45,'H',{fontSize:32,fontWeight:'bold',fontStyle:'italic',fontFamily:SANS}));
CASE_TITLES.forEach((t,i)=>els.push(txt(COL_LEFT[i]+PW/2, 37, t, Object.assign({fontSize:24}, COND), {scaleX:0.875})));
els.push(txt(67, 773, STORAGE_TITLE, Object.assign({fontSize:24}, COND), {rotation:Math.PI/2, scaleX:0.81}));
els.push(txt(516, 773, STORAGE_TITLE, Object.assign({fontSize:24}, COND), {rotation:Math.PI/2, scaleX:0.81}));
els.push(txt(413, 571, FLOW_TITLE, Object.assign({fontSize:24, fill:BLUE}, COND), {rotation:Math.PI/2, scaleX:0.8}));
els.push(txt(1117, 561, FLOW_TITLE, Object.assign({fontSize:24, fill:BLUE}, COND), {rotation:Math.PI/2, scaleX:0.8}));
els.push(txt(COL_LEFT[0]+PW/2, 1574, 'YEAR', Object.assign({fontSize:24}, COND), {scaleX:0.8}));
els.push(txt((COL_LEFT[1]+COL_LEFT[2]+PW)/2, 1548, 'YEAR', Object.assign({fontSize:24}, COND), {scaleX:0.8}));

panels.forEach((p,g)=>{
  if(p.badges){
    const cy = p.btop!==undefined ? p.top+p.btop : p.top+p.h-(p.by||28.3);
    els.push(...badge(p.left+30, cy, p.badges[0], false, 15.5, 20));
    els.push(...badge(p.left+70, cy, p.badges[1], true, 15.5, 20));
  }
  if(p.callout){
    const fin = {xAxisIndex:2*g, yAxisIndex:2*g};
    [['21','c21','t21'],['15','c15','t15']].forEach(([n,ck,tk])=>{
      const c = chart.convertToPixel(fin, p.callout[ck]);
      const t = chart.convertToPixel(fin, p.callout[tk]);
      const dx=t[0]-c[0], dy=t[1]-c[1], len=Math.hypot(dx,dy);
      els.push({type:'line', z:99, silent:true, shape:{x1:c[0]+dx/len*15.5, y1:c[1]+dy/len*15.5, x2:t[0], y2:t[1]}, style:{stroke:INK, lineWidth:1.1}});
      els.push(...badge(c[0], c[1], n, false, 15.5, 20));
    });
  }
});

// Explanation
const expl = {fontFamily:SERIF, fill:INK};
els.push(txt(1151, 1067, 'EXPLANATION', Object.assign({fontSize:22, fontWeight:'bold'}, expl)));
const lt = (x,y,s,st)=>txt(x,y,s,Object.assign({align:'left', textAlign:'left', fontSize:17}, expl, st||{}));
els.push(lt(1076,1109,'Subarea',{fontWeight:'bold', fontSize:18}));
els.push(lt(1076,1132,'number \u2013',{fontWeight:'bold', fontSize:18}));
els.push({type:'text', z:100, silent:true, x:1091, y:1155, style:{text:'{a|See figure 17}{b|B}', align:'left', textAlign:'left', verticalAlign:'middle', textVerticalAlign:'middle',
  rich:{a:{fontSize:17, fontFamily:SERIF, fill:INK, color:INK}, b:{fontSize:17, fontFamily:SERIF, fontStyle:'italic', fill:INK, color:INK}}}});
els.push(lt(1091,1177,'for subarea'));
els.push(lt(1091,1200,'names'));
els.push(...badge(1080,1234,'22',false,9.5,12,0.85));
els.push(lt(1108,1233,'Upper-aquifer',{fontSize:16}));
els.push(lt(1108,1252,'system',{fontSize:16}));
els.push(...badge(1080,1279,'10',true,9.5,12,0.85));
els.push(lt(1110,1279,'Lower-aquifer',{fontSize:16}));
els.push(lt(1110,1297,'system',{fontSize:16}));
const seg=(y,color,dash)=>({type:'line', z:100, silent:true, shape:{x1:1072,y1:y,x2:1110,y2:y}, style:{stroke:color, lineWidth:1.3, lineDash:dash||null}});
els.push(seg(1334,'#1c1c1c'), seg(1353,BLUE), seg(1381,'#1c1c1c',[6,4]), seg(1399,BLUE,[6,4]));
const bracket=(y1,y2)=>[
  {type:'polyline', z:100, silent:true, shape:{points:[[1114,y1],[1118,y1],[1118,y2],[1114,y2]]}, style:{stroke:INK, fill:null, lineWidth:1}},
  {type:'line', z:100, silent:true, shape:{x1:1118,y1:(y1+y2)/2,x2:1122,y2:(y1+y2)/2}, style:{stroke:INK, lineWidth:1}}];
els.push(...bracket(1325,1361), ...bracket(1372,1408));
els.push(lt(1134,1334,'Upper-aquifer',{fontSize:16}));
els.push(lt(1134,1354,'system',{fontSize:16}));
els.push(lt(1134,1381,'Lower-aquifer',{fontSize:16}));
els.push(lt(1134,1401,'system',{fontSize:16}));

chart.setOption({graphic:{elements:els}});
</script></body></html>
